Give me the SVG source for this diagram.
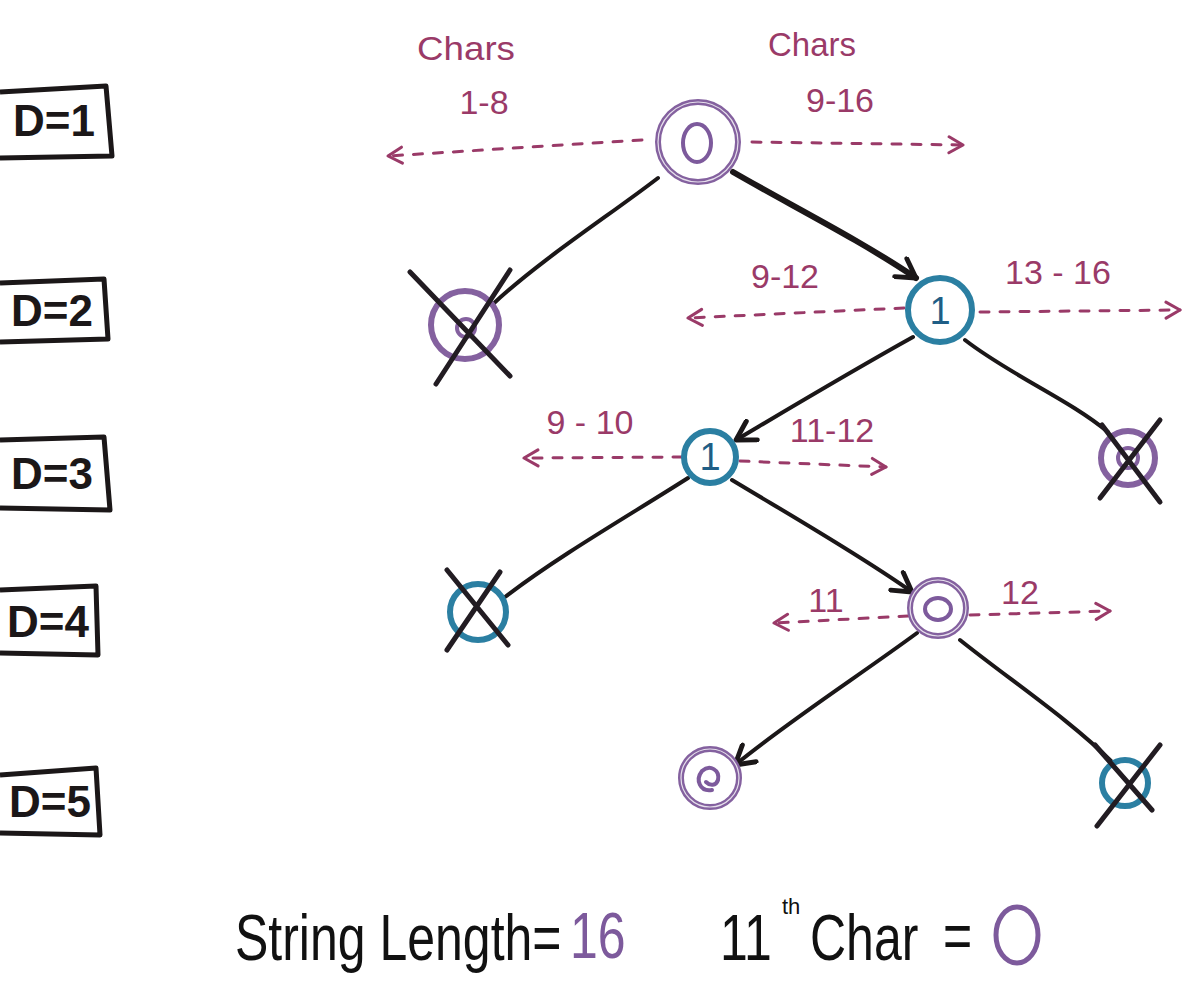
<svg xmlns="http://www.w3.org/2000/svg" width="1200" height="1000" viewBox="0 0 1200 1000">
<defs>
<style>
.box{fill:none;stroke:#1b1718;stroke-width:5;stroke-linejoin:round}
.dlab{font-family:"Liberation Sans",Arial,sans-serif;font-size:44px;font-weight:bold;fill:#1b1718;text-anchor:middle}
.lab{font-family:"Liberation Sans",Arial,sans-serif;font-size:34px;fill:#9a3a68;text-anchor:middle}
.edge{fill:none;stroke:#1b1718;stroke-width:4;stroke-linecap:round}
.thick{stroke-width:6}
.dot{fill:none;stroke:#9a3a68;stroke-width:3;stroke-dasharray:9 11;stroke-linecap:round}
.purple{fill:#fff;stroke:#84619f;stroke-width:6}
.pline{fill:none;stroke:#fff;stroke-width:1.2;opacity:.8}
.teal{fill:#fff;stroke:#2b7fa2;stroke-width:6}
.tnum{font-family:"Liberation Sans",Arial,sans-serif;font-size:38px;fill:#1f5e86;text-anchor:middle}
.cross{fill:none;stroke:#221c22;stroke-width:5;stroke-linecap:round}
.big{font-family:"Liberation Sans",Arial,sans-serif;font-size:50px;fill:#111}
.pv{fill:#7d5a9c}
</style>
<marker id="mh" viewBox="0 0 20 20" refX="16" refY="10" markerWidth="20" markerHeight="20" markerUnits="userSpaceOnUse" orient="auto">
<path d="M2,2 L16,10 L2,18" fill="none" stroke="#9a3a68" stroke-width="3" stroke-linecap="round" stroke-linejoin="round"/>
</marker>
<marker id="bh" viewBox="0 0 24 24" refX="20" refY="12" markerWidth="26" markerHeight="26" markerUnits="userSpaceOnUse" orient="auto">
<path d="M3,2 L20,12 L3,22" fill="none" stroke="#1b1718" stroke-width="4.5" stroke-linecap="round" stroke-linejoin="round"/>
</marker>
</defs>
<rect width="1200" height="1000" fill="#fff"/>

<g id="depth-labels">
<g id="d1"><path class="box" d="M0,92 L106,86 L112,156 L0,158"/><text class="dlab" x="54" y="136">D=1</text></g>
<g id="d2"><path class="box" d="M0,283 L104,279 L108,339 L0,342"/><text class="dlab" x="52" y="326">D=2</text></g>
<g id="d3"><path class="box" d="M0,440 L104,437 L110,510 L0,508"/><text class="dlab" x="52" y="489">D=3</text></g>
<g id="d4"><path class="box" d="M0,590 L96,586 L98,655 L0,653"/><text class="dlab" x="48" y="637">D=4</text></g>
<g id="d5"><path class="box" d="M0,775 L96,768 L100,835 L0,833"/><text class="dlab" x="50" y="817">D=5</text></g>
</g>

<g id="connectors">
<path class="edge" d="M658,178 C610,215 540,260 492,305"/>
<path class="edge thick" d="M733,172 C790,205 860,240 916,278" marker-end="url(#bh)"/>
<path class="edge" d="M913,337 C850,372 790,408 736,440" marker-end="url(#bh)"/>
<path class="edge" d="M965,340 C1010,375 1070,400 1108,432"/>
<path class="edge" d="M688,478 C630,515 560,555 505,597"/>
<path class="edge" d="M732,480 C790,515 860,555 912,592" marker-end="url(#bh)"/>
<path class="edge" d="M917,633 C860,675 790,720 735,765" marker-end="url(#bh)"/>
<path class="edge" d="M960,640 C1010,680 1070,720 1112,762"/>

<path class="dot" d="M642,140 L388,156" marker-end="url(#mh)"/>
<path class="dot" d="M752,142 L963,145" marker-end="url(#mh)"/>
<path class="dot" d="M904,308 L688,318" marker-end="url(#mh)"/>
<path class="dot" d="M980,312 L1180,310" marker-end="url(#mh)"/>
<path class="dot" d="M682,457 L524,458" marker-end="url(#mh)"/>
<path class="dot" d="M740,461 L886,467" marker-end="url(#mh)"/>
<path class="dot" d="M908,616 L774,623" marker-end="url(#mh)"/>
<path class="dot" d="M970,615 L1110,611" marker-end="url(#mh)"/>
</g>

<g id="edge-labels">
<text class="lab" x="466" y="60" textLength="98" lengthAdjust="spacingAndGlyphs">Chars</text>
<text class="lab" x="484" y="114">1-8</text>
<text class="lab" x="812" y="56" textLength="88" lengthAdjust="spacingAndGlyphs">Chars</text>
<text class="lab" x="840" y="112">9-16</text>
<text class="lab" x="785" y="288">9-12</text>
<text class="lab" x="1058" y="284">13 - 16</text>
<text class="lab" x="590" y="434">9 - 10</text>
<text class="lab" x="832" y="442">11-12</text>
<text class="lab" x="826" y="612">11</text>
<text class="lab" x="1020" y="604">12</text>
</g>

<g id="n-root"><circle class="purple" cx="698" cy="142" r="40"/><circle class="pline" cx="698" cy="142" r="40"/><ellipse cx="697" cy="143" rx="14" ry="19" fill="none" stroke="#7d5a9c" stroke-width="4"/></g>
<g id="n-d2-left"><circle class="purple" cx="465" cy="325" r="34"/><circle cx="466" cy="328" r="9" fill="none" stroke="#84619f" stroke-width="4"/><path class="cross" d="M410,272 L510,376 M436,384 L510,270"/></g>
<g id="n-d2-right"><circle class="teal" cx="940" cy="310" r="32"/><text class="tnum" x="940" y="324">1</text></g>
<g id="n-d3-left"><circle class="teal" cx="710" cy="457" r="26"/><text class="tnum" x="710" y="470" font-size="32">1</text></g>
<g id="n-d3-right"><circle class="purple" cx="1128" cy="458" r="27"/><circle cx="1128" cy="458" r="10" fill="none" stroke="#84619f" stroke-width="4"/><path class="cross" d="M1102,425 L1160,502 M1100,498 L1160,420"/></g>
<g id="n-d4-left"><circle class="teal" cx="478" cy="612" r="28"/><path class="cross" d="M447,570 L508,645 M447,650 L500,572"/></g>
<g id="n-d4-right"><circle class="purple" cx="938" cy="608" r="28"/><circle class="pline" cx="938" cy="608" r="28"/><ellipse cx="938" cy="609" rx="13" ry="11" fill="none" stroke="#7d5a9c" stroke-width="4"/></g>
<g id="n-d5-left"><circle class="purple" cx="710" cy="778" r="29"/><circle class="pline" cx="710" cy="778" r="29"/><path d="M712,790 C700,792 695,780 702,771 C710,764 720,770 718,780 C716,786 710,786 706,782" fill="none" stroke="#7d5a9c" stroke-width="4" stroke-linecap="round"/></g>
<g id="n-d5-right"><circle class="teal" cx="1125" cy="783" r="23"/><path class="cross" d="M1095,745 L1152,810 M1097,826 L1160,745"/></g>

<g id="summary">
<text class="big" transform="translate(235,960) scale(1,1.3)">String Length=</text>
<text class="big pv" transform="translate(570,958) scale(1,1.3)">16</text>
<text class="big" transform="translate(720,960) scale(1,1.3)">11</text>
<text x="782" y="914" font-family="Liberation Sans,Arial,sans-serif" font-size="22" fill="#111">th</text>
<text class="big" transform="translate(810,960) scale(1,1.3)">Char</text>
<text class="big" transform="translate(943,958) scale(1,1.3)">=</text>
<ellipse cx="1017" cy="935" rx="21" ry="28" fill="none" stroke="#7d5a9c" stroke-width="5"/>
</g>
</svg>
